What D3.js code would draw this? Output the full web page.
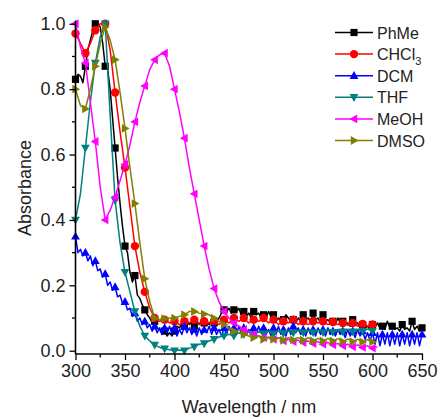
<!DOCTYPE html>
<html>
<head>
<meta charset="utf-8">
<script src="https://cdn.jsdelivr.net/npm/d3@7"></script>
<style>
  html, body { margin: 0; padding: 0; background: #fff; }
  svg { display: block; font-family: "Liberation Sans", Arial, sans-serif; }
</style>
</head>
<body>
<svg id="chart" width="443" height="419"></svg>
<script>
// UV-Vis absorption spectra (normalised) of the compound in six solvents.
// Wavelength grids: 5 nm sampling for the smoother spectra, 2.5 nm for the noisy ones.
const startNm = 300;

const meohStep = 5;
const meohValues = [1.00,0.93,0.88,0.76,0.64,0.50,0.40,0.43,0.47,0.52,0.57,0.63,0.70,0.76,0.81,0.86,0.89,0.905,0.91,0.87,0.80,0.73,0.65,0.56,0.48,0.40,0.32,0.25,0.19,0.15,0.12,0.10,0.085,0.075,0.065,0.06,0.05,0.045,0.04,0.04,0.035,0.04,0.03,0.035,0.028,0.032,0.025,0.03,0.022,0.028,0.02,0.025,0.018,0.022,0.015,0.02,0.012,0.018,0.01,0.015,0.008,0.012];

const thfStep = 5;
const thfValues = [0.40,0.48,0.62,0.76,0.88,0.96,1.00,0.72,0.46,0.33,0.24,0.18,0.12,0.075,0.045,0.03,0.018,0.01,0.006,0.003,0.0,0.002,0.0,0.008,0.012,0.02,0.022,0.03,0.035,0.042,0.045,0.05,0.045,0.055,0.05,0.058,0.05,0.058,0.052,0.06,0.052,0.06,0.053,0.06,0.055,0.062,0.055,0.062,0.056,0.063,0.056,0.064,0.057,0.064,0.058,0.065,0.058,0.065,0.06,0.066,0.06];

const chcl3Step = 5;
const chcl3Values = [0.97,0.94,0.91,0.94,0.98,1.00,1.00,0.92,0.79,0.67,0.56,0.44,0.32,0.24,0.18,0.13,0.10,0.09,0.095,0.085,0.09,0.08,0.09,0.085,0.095,0.08,0.09,0.085,0.09,0.08,0.095,0.085,0.10,0.09,0.10,0.085,0.095,0.09,0.10,0.085,0.095,0.08,0.09,0.085,0.095,0.08,0.09,0.08,0.09,0.085,0.09,0.08,0.088,0.08,0.085,0.078,0.085,0.075,0.082,0.075,0.08];

const dmsoStep = 5;
const dmsoValues = [0.80,0.75,0.74,0.80,0.87,0.94,0.99,0.95,0.89,0.79,0.68,0.56,0.45,0.33,0.22,0.15,0.10,0.095,0.098,0.10,0.10,0.105,0.11,0.12,0.12,0.115,0.112,0.11,0.10,0.09,0.08,0.07,0.06,0.055,0.05,0.045,0.04,0.045,0.035,0.042,0.035,0.04,0.032,0.04,0.033,0.04,0.032,0.04,0.03,0.038,0.03,0.038,0.03,0.037,0.028,0.036,0.028,0.035,0.027,0.034,0.027];

const phmeStep = 2.5;
const phmeValues = [0.83,0.845,0.84,0.82,0.87,0.92,0.95,0.98,1.00,1.00,0.99,0.94,0.87,0.86,0.80,0.71,0.62,0.53,0.45,0.38,0.32,0.30,0.24,0.21,0.23,0.17,0.16,0.14,0.125,0.11,0.10,0.085,0.09,0.07,0.065,0.05,0.06,0.045,0.055,0.045,0.06,0.075,0.07,0.085,0.075,0.09,0.08,0.09,0.075,0.09,0.08,0.095,0.085,0.09,0.08,0.095,0.085,0.09,0.10,0.115,0.125,0.12,0.13,0.115,0.125,0.12,0.13,0.11,0.12,0.105,0.115,0.10,0.12,0.11,0.115,0.10,0.11,0.10,0.12,0.105,0.11,0.09,0.10,0.09,0.095,0.11,0.10,0.09,0.095,0.085,0.10,0.09,0.11,0.095,0.10,0.09,0.115,0.095,0.10,0.085,0.11,0.09,0.095,0.085,0.09,0.08,0.10,0.085,0.09,0.08,0.085,0.075,0.095,0.08,0.085,0.07,0.08,0.07,0.075,0.065,0.08,0.07,0.085,0.07,0.075,0.065,0.09,0.07,0.075,0.065,0.07,0.06,0.08,0.065,0.07,0.06,0.09,0.065,0.075,0.06,0.07];

const dcmStep = 2.5;
const dcmValues = [0.35,0.30,0.31,0.29,0.30,0.275,0.29,0.26,0.275,0.245,0.25,0.225,0.235,0.20,0.21,0.185,0.195,0.165,0.17,0.145,0.15,0.125,0.13,0.105,0.115,0.09,0.10,0.08,0.09,0.07,0.08,0.06,0.075,0.055,0.07,0.05,0.07,0.055,0.075,0.05,0.07,0.045,0.065,0.05,0.075,0.055,0.07,0.05,0.065,0.045,0.07,0.05,0.065,0.055,0.075,0.05,0.07,0.05,0.065,0.045,0.07,0.05,0.075,0.055,0.07,0.05,0.075,0.055,0.07,0.05,0.065,0.045,0.07,0.05,0.075,0.055,0.07,0.05,0.065,0.045,0.07,0.05,0.075,0.05,0.065,0.045,0.07,0.05,0.075,0.055,0.07,0.05,0.065,0.045,0.07,0.05,0.065,0.045,0.07,0.05,0.065,0.045,0.07,0.05,0.06,0.045,0.065,0.05,0.06,0.04,0.065,0.045,0.06,0.04,0.065,0.045,0.06,0.035,0.055,0.03,0.055,0.02,0.055,0.015,0.05,0.02,0.055,0.015,0.05,0.02,0.055,0.015,0.05,0.02,0.055,0.015,0.05,0.02,0.055,0.015,0.05];

const xTicks = [300, 350, 400, 450, 500, 550, 600, 650];
const yTicks = [0.0, 0.2, 0.4, 0.6, 0.8, 1.0];

const series = [
  { name: "PhMe",  sub: "",  color: "#000000", shape: "square",   step: phmeStep,  values: phmeValues,  every: 4, offset: 0 },
  { name: "CHCl",  sub: "3", color: "#ff0000", shape: "circle",   step: chcl3Step, values: chcl3Values, every: 2, offset: 0 },
  { name: "DCM",   sub: "",  color: "#0000ff", shape: "triUp",    step: dcmStep,   values: dcmValues,   every: 4, offset: 0 },
  { name: "THF",   sub: "",  color: "#008080", shape: "triDown",  step: thfStep,   values: thfValues,   every: 2, offset: 0 },
  { name: "MeOH",  sub: "",  color: "#ff00ff", shape: "triLeft",  step: meohStep,  values: meohValues,  every: 2, offset: 0 },
  { name: "DMSO",  sub: "",  color: "#808000", shape: "triRight", step: dmsoStep,  values: dmsoValues,  every: 2, offset: 0 }
];

const svg = d3.select("#chart");
const x = d3.scaleLinear().domain([300, 650]).range([75.5, 422]);
const y = d3.scaleLinear().domain([-0.01, 1.01]).range([354, 20.5]);

// marker glyphs, centred on the origin
function markerPath(shape, r) {
  switch (shape) {
    case "square":  return `M${-r},${-r}H${r}V${r}H${-r}Z`;
    case "circle":  return `M${r},0A${r},${r} 0 1,1 ${-r},0A${r},${r} 0 1,1 ${r},0Z`;
    case "triUp":   return `M0,${-r * 1.15}L${r * 1.1},${r * 0.8}L${-r * 1.1},${r * 0.8}Z`;
    case "triDown": return `M0,${r * 1.15}L${r * 1.1},${-r * 0.8}L${-r * 1.1},${-r * 0.8}Z`;
    case "triLeft": return `M${-r * 1.15},0L${r * 0.8},${r * 1.1}L${r * 0.8},${-r * 1.1}Z`;
    case "triRight":return `M${r * 1.15},0L${-r * 0.8},${r * 1.1}L${-r * 0.8},${-r * 1.1}Z`;
  }
}
const markerR = { square: 3.6, circle: 4.2, triUp: 4, triDown: 4, triLeft: 4, triRight: 4 };

const line = d3.line().x(d => x(d.nm)).y(d => y(d.a));

const plot = svg.append("g");
series.forEach(s => {
  const pts = s.values.map((a, i) => ({ nm: startNm + i * s.step, a }));
  plot.append("path")
    .attr("d", line(pts))
    .attr("fill", "none")
    .attr("stroke", s.color)
    .attr("stroke-width", 1.5)
    .attr("stroke-linejoin", "round");
  plot.selectAll(null)
    .data(pts.filter((d, i) => i % s.every === s.offset))
    .join("path")
    .attr("transform", d => `translate(${x(d.nm)},${y(d.a)})`)
    .attr("d", markerPath(s.shape, markerR[s.shape]))
    .attr("fill", s.color);
});

// axes: left and bottom only, outward ticks, minor ticks between majors
const axisColor = "#000";
const xAxis = svg.append("g").attr("transform", `translate(0,${y.range()[0]})`);
xAxis.call(d3.axisBottom(x).tickValues(xTicks).tickSize(6).tickPadding(4).tickFormat(d3.format("d")));
const xMinor = d3.range(325, 650, 50);
xAxis.selectAll(".minor").data(xMinor).join("line")
  .attr("class", "minor").attr("x1", d => x(d)).attr("x2", d => x(d)).attr("y1", 0).attr("y2", 3.5)
  .attr("stroke", axisColor).attr("stroke-width", 1.3);

const yAxis = svg.append("g").attr("transform", `translate(${x.range()[0]},0)`);
yAxis.call(d3.axisLeft(y).tickValues(yTicks).tickSize(6).tickPadding(4).tickFormat(d3.format(".1f")));
const yMinor = [0.1, 0.3, 0.5, 0.7, 0.9];
yAxis.selectAll(".minor").data(yMinor).join("line")
  .attr("class", "minor").attr("y1", d => y(d)).attr("y2", d => y(d)).attr("x1", 0).attr("x2", -3.5)
  .attr("stroke", axisColor).attr("stroke-width", 1.3);

[xAxis, yAxis].forEach(g => {
  g.select(".domain").attr("stroke", axisColor).attr("stroke-width", 1.6).attr("d",
    g === xAxis ? `M${x.range()[0]},0H${x.range()[1] + 1}` : `M0,${y.range()[0]}V${y.range()[1]}`);
  g.selectAll(".tick line").attr("stroke", axisColor).attr("stroke-width", 1.3);
  g.selectAll(".tick text").attr("font-size", 18).attr("fill", "#222")
    .attr("font-family", "'Liberation Sans', Arial, sans-serif");
});

svg.append("text")
  .attr("x", 249).attr("y", 413)
  .attr("text-anchor", "middle")
  .attr("font-size", 18).attr("fill", "#222")
  .text("Wavelength / nm");

svg.append("text")
  .attr("transform", "translate(31,188) rotate(-90)")
  .attr("text-anchor", "middle")
  .attr("font-size", 18).attr("fill", "#222")
  .text("Absorbance");

// legend
const legend = svg.append("g");
const legendY0 = 32.5, legendDy = 21.6;
series.forEach((s, i) => {
  const ly = legendY0 + i * legendDy;
  legend.append("line").attr("x1", 335).attr("x2", 373).attr("y1", ly).attr("y2", ly)
    .attr("stroke", s.color).attr("stroke-width", 1.5);
  legend.append("path").attr("transform", `translate(354,${ly})`)
    .attr("d", markerPath(s.shape, markerR[s.shape])).attr("fill", s.color);
  const t = legend.append("text").attr("x", 377).attr("y", ly + 6)
    .attr("font-size", 16).attr("fill", "#222").text(s.name);
  if (s.sub) t.append("tspan").attr("dy", 5).attr("font-size", 11).text(s.sub);
});
</script>
</body>
</html>
